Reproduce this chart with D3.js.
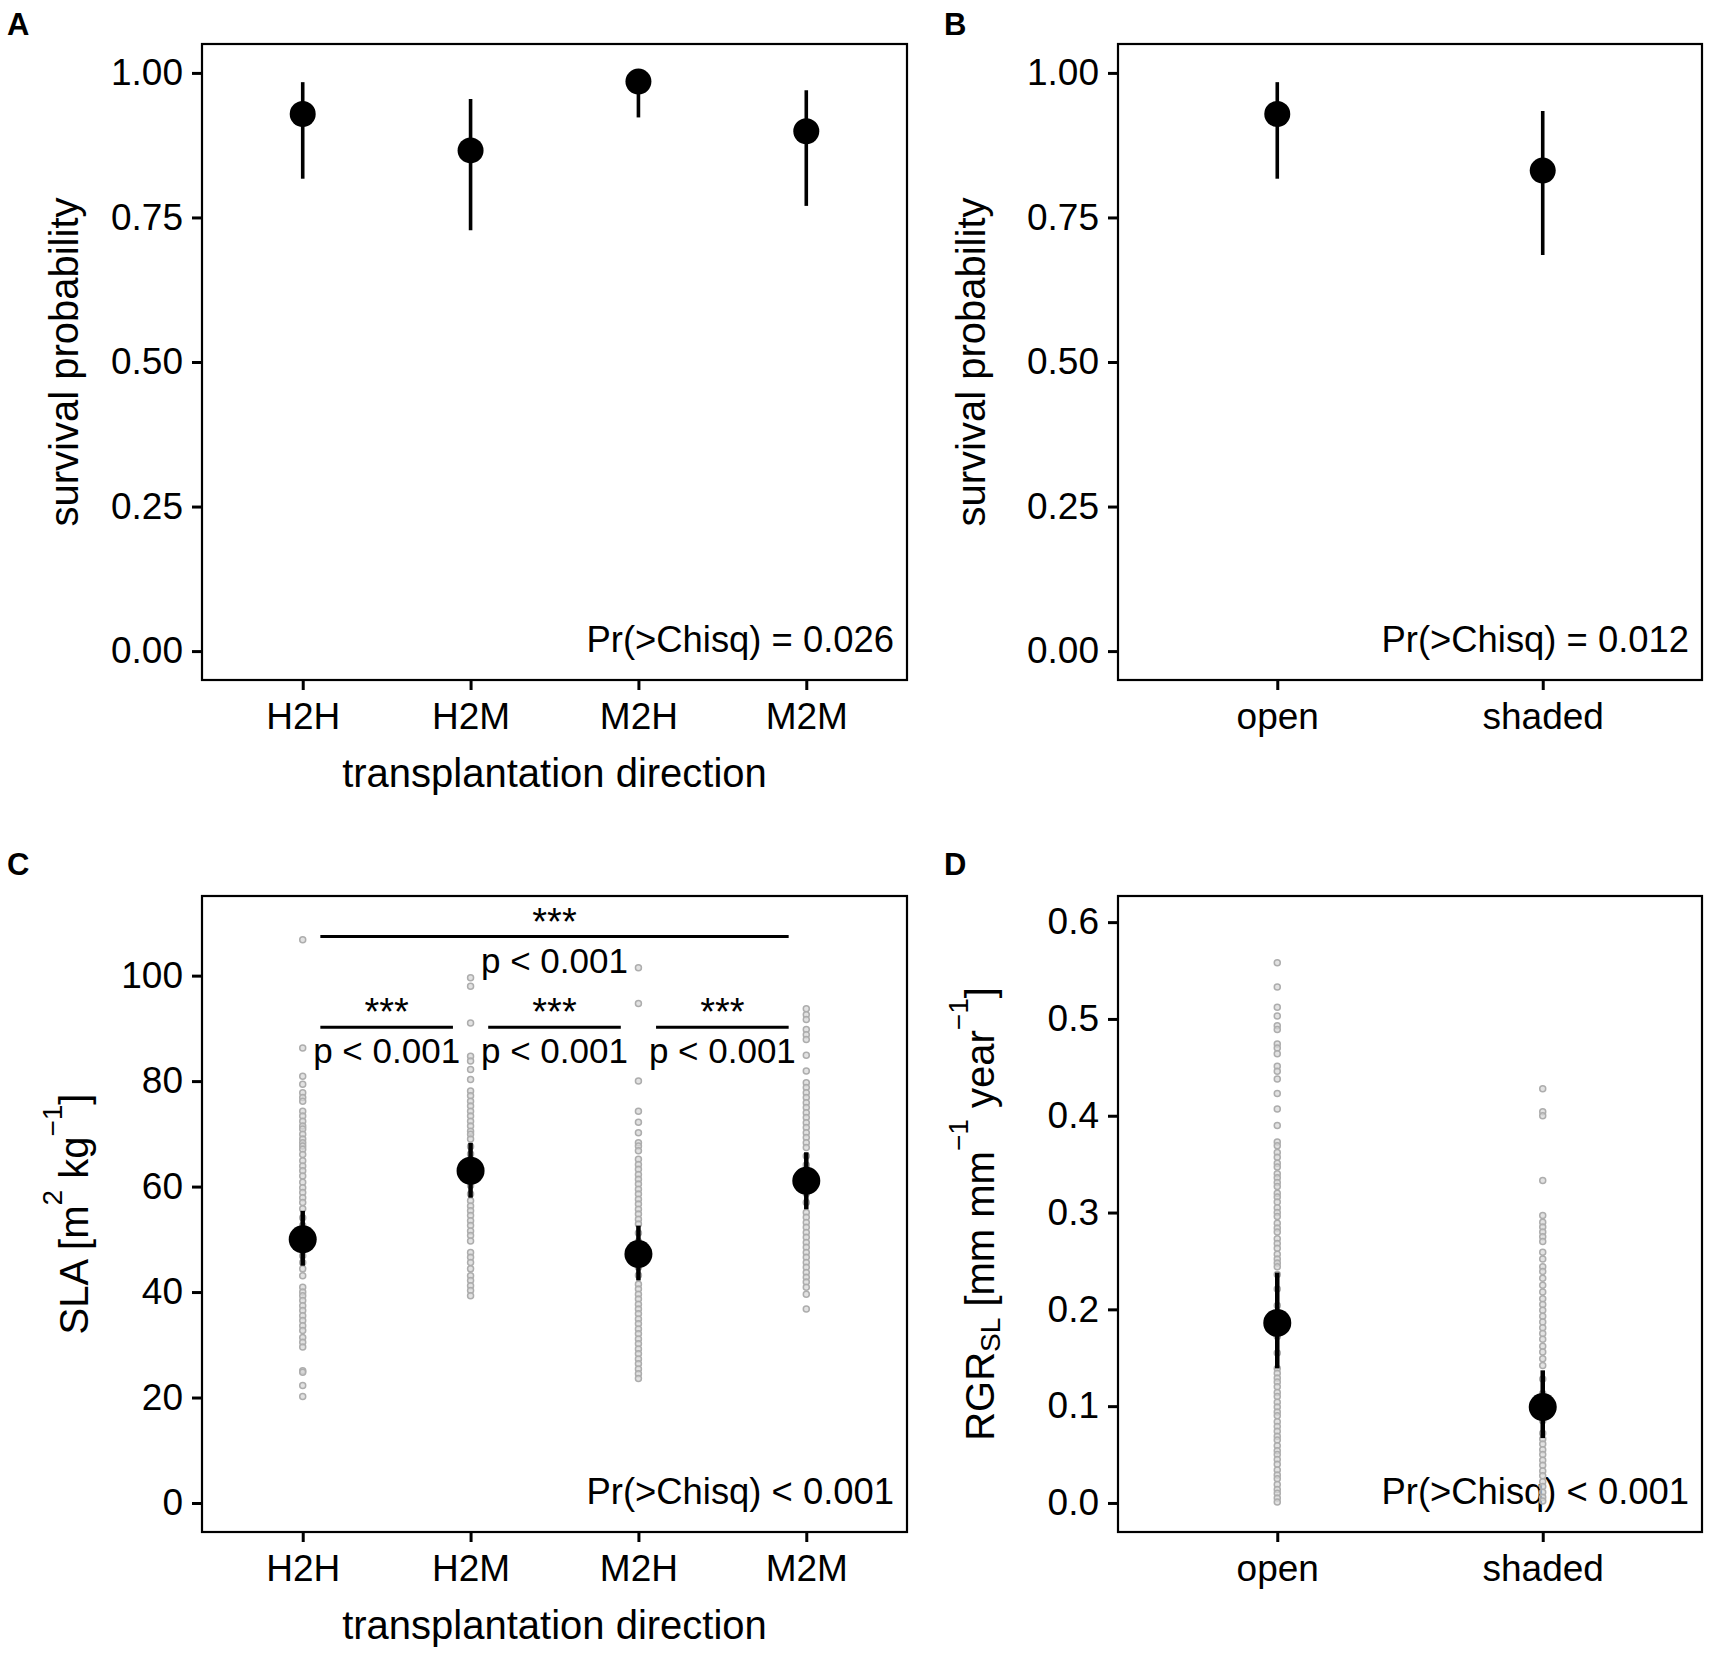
<!DOCTYPE html>
<html>
<head>
<meta charset="utf-8">
<script src="https://cdnjs.cloudflare.com/ajax/libs/d3/7.8.5/d3.min.js"></script>
<style>
  body { margin: 0; background: #fff; }
  svg { font-family: "Liberation Sans", Arial, sans-serif; }
</style>
</head>
<body>
<div id="chart"></div>
<script>
// ---- data ----
const directions = ["H2H", "H2M", "M2H", "M2M"];
const shading = ["open", "shaded"];

// A: survival by transplantation direction (estimate, lower, upper)
const survDirEst = [0.929, 0.866, 0.985, 0.899];
const survDirLo = [0.817, 0.728, 0.923, 0.770];
const survDirHi = [0.984, 0.955, 0.997, 0.970];

// B: survival by shading
const survShadeEst = [0.929, 0.831];
const survShadeLo = [0.817, 0.685];
const survShadeHi = [0.984, 0.934];

// C: SLA model estimates
const slaEst = [50.0, 63.0, 47.2, 61.1];
const slaLo = [45.0, 57.9, 42.2, 55.7];
const slaHi = [55.4, 68.3, 52.6, 66.5];

// C: raw SLA observations
const slaH2H = [106.8, 86.3, 80.9, 79.4, 77.8, 76.9, 76.2, 74.3, 73.4, 72.4, 71.5, 70.9, 69.9, 69.0,
  68.3, 67.7, 67.1, 66.1, 64.9, 63.9, 63.0, 62.0, 60.8, 59.8, 58.9, 57.9, 57.0, 55.8, 54.1, 52.6,
  51.2, 49.5, 48.3, 46.9, 45.6, 44.4, 43.1, 40.9, 40.0, 39.3, 38.4, 37.4, 36.5, 35.5, 34.6, 33.6,
  32.7, 31.4, 30.5, 29.6, 25.1, 24.8, 22.3, 20.2];
const slaH2M = [99.6, 98.0, 91.0, 84.7, 83.8, 82.2, 80.3, 78.1, 77.2, 76.2, 75.3, 74.3, 73.4, 72.4,
  71.5, 70.5, 69.9, 69.0, 67.6, 66.2, 64.8, 63.1, 61.5, 60.2, 58.6, 57.3, 56.3, 55.4, 54.5, 53.5,
  52.6, 51.6, 50.7, 49.7, 47.5, 46.6, 45.6, 44.4, 43.1, 42.2, 41.2, 40.3, 39.3];
const slaM2H = [101.5, 94.7, 80.0, 74.3, 72.2, 70.2, 68.3, 67.7, 66.8, 65.2, 64.2, 63.3, 62.3, 61.4,
  60.5, 59.5, 58.6, 57.6, 56.7, 55.7, 54.8, 53.8, 52.9, 51.2, 49.6, 48.1, 46.4, 44.7, 43.2, 41.5,
  40.6, 39.6, 38.7, 37.7, 36.8, 35.9, 34.9, 34.0, 33.0, 32.1, 31.1, 30.2, 29.2, 28.3, 27.3, 26.4,
  25.4, 24.5, 23.6];
const slaM2M = [93.7, 92.6, 91.7, 89.8, 88.8, 87.9, 84.9, 81.9, 79.7, 78.8, 77.8, 76.9, 75.9, 75.0,
  74.0, 73.1, 72.1, 71.2, 70.2, 69.3, 68.3, 67.4, 65.8, 64.1, 62.4, 60.3, 58.7, 57.0, 55.1, 54.2,
  53.2, 52.3, 51.3, 50.4, 49.4, 48.5, 47.5, 46.6, 45.6, 44.7, 43.7, 42.8, 41.9, 40.9, 39.6, 36.8];

// C: pairwise comparisons
const slaPairFrom = ["H2H", "H2H", "H2M", "M2H"];
const slaPairTo = ["M2M", "H2M", "M2H", "M2M"];
const slaPairY = [107.4, 90.2, 90.2, 90.2];
const slaPairStars = ["***", "***", "***", "***"];
const slaPairP = ["p < 0.001", "p < 0.001", "p < 0.001", "p < 0.001"];

// D: RGR model estimates
const rgrEst = [0.186, 0.099];
const rgrLo = [0.139, 0.067];
const rgrHi = [0.238, 0.137];

// D: raw RGR observations
const rgrOpen = [0.558, 0.533, 0.512, 0.503, 0.493, 0.489, 0.474, 0.470, 0.464, 0.451, 0.446, 0.438,
  0.423, 0.407, 0.390, 0.373, 0.369, 0.362, 0.357, 0.351, 0.347, 0.340, 0.336, 0.331, 0.327, 0.320,
  0.316, 0.311, 0.305, 0.300, 0.296, 0.289, 0.284, 0.280, 0.273, 0.268, 0.263, 0.257, 0.252, 0.248,
  0.244, 0.236, 0.221, 0.204, 0.188, 0.172, 0.155, 0.139, 0.134, 0.129, 0.125, 0.120, 0.114, 0.110,
  0.104, 0.099, 0.094, 0.090, 0.084, 0.079, 0.074, 0.069, 0.065, 0.059, 0.054, 0.050, 0.045, 0.040,
  0.034, 0.029, 0.025, 0.019, 0.014, 0.010, 0.005, 0.001];
const rgrShaded = [0.428, 0.404, 0.400, 0.333, 0.297, 0.290, 0.285, 0.280, 0.275, 0.270, 0.259, 0.252,
  0.244, 0.239, 0.232, 0.225, 0.218, 0.211, 0.205, 0.199, 0.193, 0.187, 0.181, 0.175, 0.169, 0.162,
  0.156, 0.149, 0.142, 0.128, 0.113, 0.099, 0.085, 0.072, 0.066, 0.061, 0.055, 0.050, 0.044, 0.039,
  0.033, 0.028, 0.022, 0.017, 0.011, 0.006, 0.002];

// axis ticks and annotations
const survTicks = [0, 0.25, 0.5, 0.75, 1];
const slaTicks = [0, 20, 40, 60, 80, 100];
const rgrTicks = [0, 0.1, 0.2, 0.3, 0.4, 0.5, 0.6];
const prLabels = ["Pr(>Chisq) = 0.026", "Pr(>Chisq) = 0.012", "Pr(>Chisq) < 0.001", "Pr(>Chisq) < 0.001"];

// ---- drawing ----
const W = 1713, H = 1654;
const svg = d3.select("#chart")
  .append("svg")
    .attr("width", W)
    .attr("height", H);

// Build one framed panel with its scales and axes
function makePanel(cfg) {
  const width = cfg.right - cfg.left,
    height = cfg.bottom - cfg.top;

  const g = svg.append("g")
    .attr("transform", "translate(" + cfg.left + "," + cfg.top + ")");

  const x = d3.scalePoint()
    .domain(cfg.cats)
    .range([0, width])
    .padding(0.6);

  const y = d3.scaleLinear()
    .domain(cfg.yDomain)
    .range([height, 0]);

  const yAxis = g.append("g")
    .call(d3.axisLeft(y).tickValues(cfg.yTicks).tickFormat(cfg.fmt).tickSize(10).tickPadding(9));

  const xAxis = g.append("g")
    .attr("transform", "translate(0," + height + ")")
    .call(d3.axisBottom(x).tickSize(10).tickPadding(13));

  [yAxis, xAxis].forEach(a => {
    a.attr("font-family", null).attr("font-size", null);
    a.select(".domain").remove();
    a.selectAll("line").attr("stroke", "#000").attr("stroke-width", 3);
    a.selectAll("text").attr("font-size", 37).attr("fill", "#000");
  });

  // x title
  g.append("text")
    .attr("x", width / 2)
    .attr("y", height + 107)
    .attr("text-anchor", "middle")
    .attr("font-size", 40)
    .text(cfg.xTitle);

  // y title, built from pieces so sub/superscripts work
  const yt = g.append("text")
    .attr("transform", "translate(" + cfg.yTitleX + "," + (height / 2) + ") rotate(-90)")
    .attr("text-anchor", "middle")
    .attr("font-size", 40);
  let shift = 0;
  cfg.yTitle.forEach(p => {
    const want = p.sup ? -26 : (p.sub ? 6 : 0);
    yt.append("tspan")
      .attr("dy", want - shift)
      .attr("font-size", (p.sup || p.sub) ? 28 : 40)
      .text(p.t);
    shift = want;
  });

  // panel letter
  svg.append("text")
    .attr("x", cfg.letterX)
    .attr("y", cfg.letterY)
    .attr("font-size", 31)
    .attr("font-weight", "bold")
    .text(cfg.letter);

  // test result in the lower right, sitting on y = 0
  g.append("text")
    .attr("x", width - 13)
    .attr("y", y(0))
    .attr("dy", "0.02em")
    .attr("text-anchor", "end")
    .attr("font-size", 36.4)
    .text(cfg.pr);

  return { g: g, x: x, y: y, width: width, height: height };
}

// raw observations as light grey open circles
function drawRaw(p, cats, groups) {
  const pts = [];
  cats.forEach((c, i) => groups[i].forEach(v => pts.push({ cat: c, v: v })));
  p.g.append("g").selectAll("circle")
    .data(pts)
    .join("circle")
      .attr("cx", d => p.x(d.cat))
      .attr("cy", d => p.y(d.v))
      .attr("r", 3)
      .attr("fill", "#d6d6d6")
      .attr("fill-opacity", 0.7)
      .attr("stroke", "#adadad")
      .attr("stroke-width", 1.5);
}

// estimate with interval
function drawEst(p, cats, est, lo, hi, r, lw) {
  const rows = cats.map((c, i) => ({ cat: c, est: est[i], lo: lo[i], hi: hi[i] }));
  p.g.append("g").selectAll("line")
    .data(rows)
    .join("line")
      .attr("x1", d => p.x(d.cat))
      .attr("x2", d => p.x(d.cat))
      .attr("y1", d => p.y(d.lo))
      .attr("y2", d => p.y(d.hi))
      .attr("stroke", "#000")
      .attr("stroke-width", lw);
  p.g.append("g").selectAll("circle")
    .data(rows)
    .join("circle")
      .attr("cx", d => p.x(d.cat))
      .attr("cy", d => p.y(d.est))
      .attr("r", r)
      .attr("fill", "#000");
}

// frame on top of everything
function drawFrame(p) {
  p.g.append("rect")
    .attr("width", p.width)
    .attr("height", p.height)
    .attr("fill", "none")
    .attr("stroke", "#000")
    .attr("stroke-width", 2.2);
}

const fmt2 = d3.format(".2f");
const fmt1 = d3.format(".1f");

// Panel A
const pA = makePanel({
  left: 202, right: 907, top: 44, bottom: 680,
  cats: directions, yDomain: [-0.05, 1.05], yTicks: survTicks, fmt: fmt2,
  xTitle: "transplantation direction", yTitleX: -124,
  yTitle: [{ t: "survival probability" }],
  letter: "A", letterX: 7, letterY: 35, pr: prLabels[0]
});
drawEst(pA, directions, survDirEst, survDirLo, survDirHi, 13, 3.6);
drawFrame(pA);

// Panel B
const pB = makePanel({
  left: 1118, right: 1702, top: 44, bottom: 680,
  cats: shading, yDomain: [-0.05, 1.05], yTicks: survTicks, fmt: fmt2,
  xTitle: "", yTitleX: -133,
  yTitle: [{ t: "survival probability" }],
  letter: "B", letterX: 944, letterY: 35, pr: prLabels[1]
});
drawEst(pB, shading, survShadeEst, survShadeLo, survShadeHi, 13, 3.6);
drawFrame(pB);

// Panel C
const pC = makePanel({
  left: 202, right: 907, top: 896, bottom: 1532,
  cats: directions, yDomain: [-5.5, 115.1], yTicks: slaTicks, fmt: d3.format("d"),
  xTitle: "transplantation direction", yTitleX: -114,
  yTitle: [{ t: "SLA [m" }, { t: "2", sup: true }, { t: " kg" }, { t: "\u22121", sup: true }, { t: "]" }],
  letter: "C", letterX: 7, letterY: 875, pr: prLabels[2]
});
drawRaw(pC, directions, [slaH2H, slaH2M, slaM2H, slaM2M]);
drawEst(pC, directions, slaEst, slaLo, slaHi, 14, 4.5);

// significance brackets
const brackets = slaPairFrom.map((f, i) => ({
  from: f, to: slaPairTo[i], y: slaPairY[i], stars: slaPairStars[i], p: slaPairP[i]
}));
const inset = pC.x.step() * 0.105;
const br = pC.g.append("g").selectAll("g")
  .data(brackets)
  .join("g");
br.append("line")
  .attr("x1", d => pC.x(d.from) + inset)
  .attr("x2", d => pC.x(d.to) - inset)
  .attr("y1", d => pC.y(d.y))
  .attr("y2", d => pC.y(d.y))
  .attr("stroke", "#000")
  .attr("stroke-width", 3);
br.append("text")
  .attr("x", d => (pC.x(d.from) + pC.x(d.to)) / 2)
  .attr("y", d => pC.y(d.y) - 2)
  .attr("text-anchor", "middle")
  .attr("font-size", 38)
  .text(d => d.stars);
br.append("text")
  .attr("x", d => (pC.x(d.from) + pC.x(d.to)) / 2)
  .attr("y", d => pC.y(d.y) + 36)
  .attr("text-anchor", "middle")
  .attr("font-size", 35)
  .text(d => d.p);
drawFrame(pC);

// Panel D
const pD = makePanel({
  left: 1118, right: 1702, top: 896, bottom: 1532,
  cats: shading, yDomain: [-0.03, 0.627], yTicks: rgrTicks, fmt: fmt1,
  xTitle: "", yTitleX: -124,
  yTitle: [{ t: "RGR" }, { t: "SL", sub: true }, { t: " [mm mm" }, { t: "\u22121", sup: true },
    { t: " year" }, { t: "\u22121", sup: true }, { t: "]" }],
  letter: "D", letterX: 944, letterY: 875, pr: prLabels[3]
});
drawRaw(pD, shading, [rgrOpen, rgrShaded]);
drawEst(pD, shading, rgrEst, rgrLo, rgrHi, 14, 4.5);
drawFrame(pD);
</script>
</body>
</html>
